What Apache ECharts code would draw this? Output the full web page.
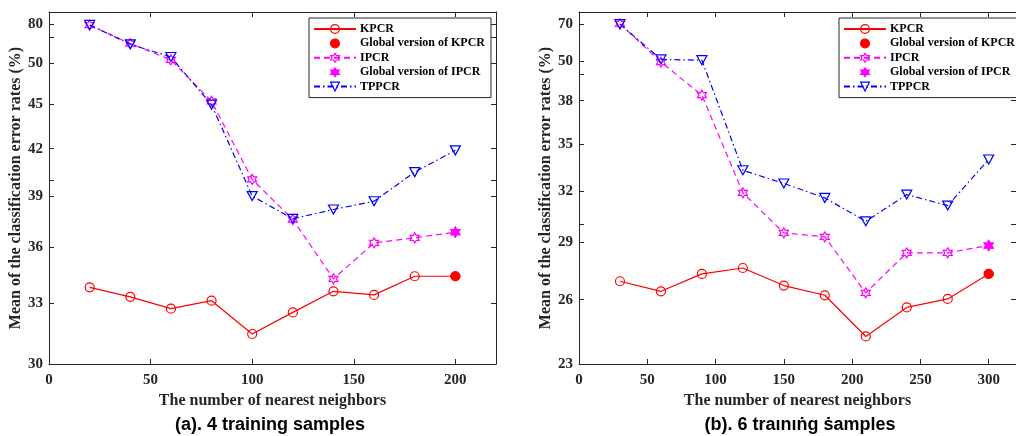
<!DOCTYPE html>
<html>
<head>
<meta charset="utf-8">
<title>Classification error rates vs nearest neighbors</title>
<script src="https://cdn.jsdelivr.net/npm/echarts@6.0.0/dist/echarts.min.js"></script>
<style>
html, body { margin: 0; padding: 0; background: #fff; }
#chart { width: 1016px; height: 436px; }
</style>
</head>
<body>
<div id="chart"></div>
<script>
// (a) 4 training samples
const neighborsA = [20, 40, 60, 80, 100, 120, 140, 160, 180, 200]
const kpcrA = [33.82, 33.32, 32.71, 33.12, 31.44, 32.52, 33.61, 33.42, 34.41, 34.41]
const ipcrA = [50.94, 49.50, 48.25, 45.23, 40.03, 37.60, 34.27, 36.25, 36.54, 36.86]
const tppcrA = [50.96, 49.44, 48.47, 44.99, 39.00, 37.64, 38.19, 38.69, 40.49, 41.89]
const globalXA = 200
const globalKpcrA = 34.41
const globalIpcrA = 36.86
const xTicksA = [0, 50, 100, 150, 200]
const yTicksA = [30, 33, 36, 39, 42, 45, 48, 51]
const yLabelsA = ['30', '33', '36', '39', '42', '45', '50', '80']
const yMinorA = [40, 50]

// (b) 6 training samples
const neighborsB = [30, 60, 90, 120, 150, 180, 210, 240, 270, 300]
const kpcrB = [26.93, 26.42, 27.31, 27.62, 26.71, 26.22, 24.24, 25.62, 26.04, 27.31]
const ipcrB = [44.00, 40.90, 38.40, 31.88, 29.53, 29.31, 26.34, 28.43, 28.43, 28.83]
const tppcrB = [43.97, 41.11, 41.05, 33.28, 32.45, 31.57, 30.19, 31.77, 31.11, 33.97]
const globalXB = 300
const globalKpcrB = 27.31
const globalIpcrB = 28.83
const xTicksB = [0, 50, 100, 150, 200, 250, 300]
const yTicksB = [23, 26, 29, 32, 35, 38, 41, 44]
const yLabelsB = ['23', '26', '29', '32', '35', '38', '50', '70']
const yMinorB = [30, 40]

const names = ['KPCR', 'Global version of KPCR', 'IPCR', 'Global version of IPCR', 'TPPCR']
const serif = 'Liberation Serif'
const axisColor = '#262626'
const red = '#ff0000', magenta = '#ff00ff', blue = '#0000ff'
const hexagram = 'path://M10,0 L12.887,5 L18.66,5 L15.774,10 L18.66,15 L12.887,15 L10,20 L7.113,15 L1.34,15 L4.226,10 L1.34,5 L7.113,5 Z'
const triDown = 'path://M0,0 L10,0 L5,9 Z'

function zip(xs, ys) {
  return xs.map((x, i) => [x, ys[i]])
}

function labelFor(ticks, labels) {
  return function (v) {
    for (let i = 0; i < ticks.length; i++) {
      if (Math.abs(ticks[i] - v) < 1e-6) return labels[i]
    }
    return ''
  }
}

const tickFont = { fontFamily: serif, fontWeight: 'bold', fontSize: 15, color: axisColor }
const nameFont = { fontFamily: serif, fontWeight: 'bold', fontSize: 16, color: axisColor }

function xAxes(g, max, ticks) {
  return [{
    type: 'value', gridIndex: g, position: 'bottom', min: 0, max: max,
    axisLine: { onZero: false, lineStyle: { color: axisColor, width: 1 } },
    axisTick: { inside: true, length: 5, customValues: ticks, lineStyle: { color: axisColor } },
    axisLabel: Object.assign({ customValues: ticks, margin: 9 }, tickFont),
    splitLine: { show: false },
    name: 'The number of nearest neighbors', nameLocation: 'middle', nameGap: 26,
    nameTextStyle: nameFont
  }, {
    type: 'value', gridIndex: g, position: 'top', min: 0, max: max,
    axisLine: { onZero: false, lineStyle: { color: axisColor, width: 1 } },
    axisTick: { inside: true, length: 5, customValues: ticks, lineStyle: { color: axisColor } },
    axisLabel: { show: false },
    splitLine: { show: false }
  }]
}

function yAxes(g, min, max, ticks, labels, minor) {
  const allTicks = ticks.concat(minor)
  return [{
    type: 'log', gridIndex: g, position: 'left', min: min, max: max,
    axisLine: { show: true, onZero: false, lineStyle: { color: axisColor, width: 1 } },
    axisTick: { show: true, inside: true, length: 5, customValues: allTicks, lineStyle: { color: axisColor } },
    axisLabel: Object.assign({ customValues: ticks, margin: 6, formatter: labelFor(ticks, labels) }, tickFont),
    splitLine: { show: false },
    minorTick: { show: false },
    name: 'Mean of the classification error rates (%)', nameLocation: 'middle', nameGap: 25, nameRotate: 90,
    nameTextStyle: nameFont
  }, {
    type: 'log', gridIndex: g, position: 'right', min: min, max: max,
    axisLine: { show: true, onZero: false, lineStyle: { color: axisColor, width: 1 } },
    axisTick: { show: true, inside: true, length: 5, customValues: allTicks, lineStyle: { color: axisColor } },
    axisLabel: { show: false },
    splitLine: { show: false },
    minorTick: { show: false }
  }]
}

function seriesFor(g, xs, k, ip, tp, gx, gk, gi) {
  const xi = 2 * g, yi = 2 * g
  return [{
    name: 'KPCR', type: 'line', xAxisIndex: xi, yAxisIndex: yi,
    data: zip(xs, k), symbol: 'circle', symbolSize: 9, z: 3,
    lineStyle: { color: red, width: 1.2 },
    itemStyle: { color: 'rgba(0,0,0,0)', borderColor: red, borderWidth: 1.2 }
  }, {
    name: 'Global version of KPCR', type: 'line', xAxisIndex: xi, yAxisIndex: yi,
    data: [[gx, gk]], symbol: 'circle', symbolSize: 9, z: 6,
    lineStyle: { opacity: 0 },
    itemStyle: { color: red, borderColor: red, borderWidth: 1 }
  }, {
    name: 'IPCR', type: 'line', xAxisIndex: xi, yAxisIndex: yi,
    data: zip(xs, ip), symbol: hexagram, symbolSize: [9, 10], z: 4,
    lineStyle: { color: magenta, width: 1.2, type: [6, 4] },
    itemStyle: { color: 'rgba(0,0,0,0)', borderColor: magenta, borderWidth: 1.2 }
  }, {
    name: 'Global version of IPCR', type: 'line', xAxisIndex: xi, yAxisIndex: yi,
    data: [[gx, gi]], symbol: hexagram, symbolSize: [9, 10], z: 6,
    lineStyle: { opacity: 0 },
    itemStyle: { color: magenta, borderColor: magenta, borderWidth: 1 }
  }, {
    name: 'TPPCR', type: 'line', xAxisIndex: xi, yAxisIndex: yi,
    data: zip(xs, tp), symbol: triDown, symbolSize: [10, 9], z: 5,
    lineStyle: { color: blue, width: 1.2, type: [6, 3, 1.5, 3] },
    itemStyle: { color: 'rgba(0,0,0,0)', borderColor: blue, borderWidth: 1.2 }
  }]
}

function legendAt(left) {
  return {
    data: names, orient: 'vertical', left: left, top: 18,
    itemWidth: 42, itemHeight: 11, itemGap: 2.4,
    padding: [5, 6, 5, 4],
    backgroundColor: '#fff', borderColor: axisColor, borderWidth: 1,
    selectedMode: false,
    itemStyle: { borderWidth: 1.2 },
    textStyle: { fontFamily: serif, fontWeight: 'bold', fontSize: 12, color: '#000', padding: [0, 0, 0, -1] }
  }
}

const chart = echarts.init(document.getElementById('chart'), null, { renderer: 'canvas' })
chart.setOption({
  animation: false,
  backgroundColor: '#fff',
  title: [{
    text: '(a). 4 training samples', left: 265, top: 411, textAlign: 'center',
    textStyle: { fontFamily: 'Liberation Sans', fontWeight: 'bold', fontSize: 18, color: '#000' }
  }, {
    text: '(b). 6 traınıṅg ṡamples', left: 795, top: 411, textAlign: 'center',
    textStyle: { fontFamily: 'Liberation Sans', fontWeight: 'bold', fontSize: 18, color: '#000' }
  }],
  legend: [legendAt(309), legendAt(839)],
  grid: [
    { left: 49, top: 12, width: 447, height: 352 },
    { left: 579, top: 12, width: 447, height: 352 }
  ],
  xAxis: xAxes(0, 220, xTicksA).concat(xAxes(1, 320, xTicksB)),
  yAxis: yAxes(0, 30, 52, yTicksA, yLabelsA, yMinorA).concat(yAxes(1, 23, 45, yTicksB, yLabelsB, yMinorB)),
  series: seriesFor(0, neighborsA, kpcrA, ipcrA, tppcrA, globalXA, globalKpcrA, globalIpcrA)
    .concat(seriesFor(1, neighborsB, kpcrB, ipcrB, tppcrB, globalXB, globalKpcrB, globalIpcrB))
})
</script>
</body>
</html>
